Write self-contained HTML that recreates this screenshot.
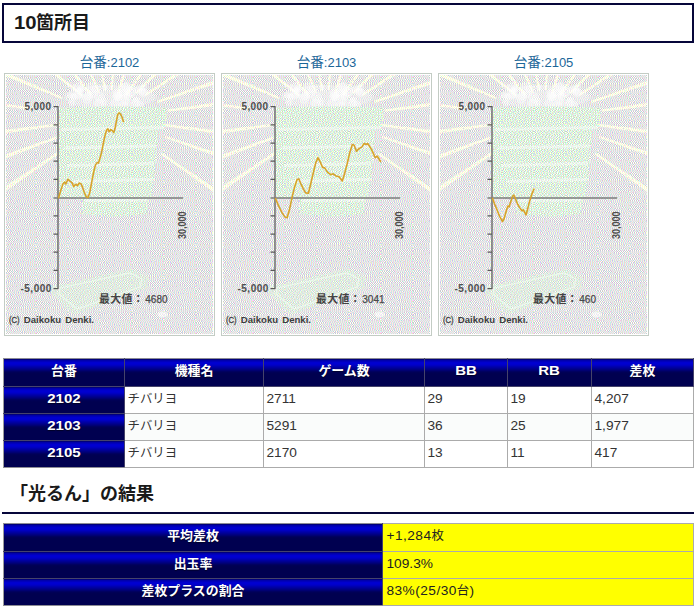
<!DOCTYPE html>
<html lang="ja">
<head>
<meta charset="utf-8">
<title>10箇所目</title>
<style>
html,body{margin:0;padding:0;background:#fff;}
body{width:700px;height:613px;position:relative;overflow:hidden;font-family:"Liberation Sans","Noto Sans CJK JP",sans-serif;font-size:13.5px;color:#333;}
.jt{font-size:12.4px;font-family:"Liberation Sans","Noto Sans CJK JP",sans-serif;}
h2{margin:0;font-weight:bold;font-size:18px;color:#1a1a1a;position:absolute;box-sizing:border-box;white-space:nowrap;}
h2 .jt{font-size:18px;}
#h1{left:2px;top:3px;width:692px;height:40px;border:2px solid #06063a;padding:0 0 0 9.5px;line-height:36px;}
#h1 .d{display:inline-block;transform:scaleX(1.13);transform-origin:0 50%;margin-right:2.4px;}
#h2{left:2px;top:476px;width:692px;height:38px;border-bottom:2px solid #06063a;padding:0 0 0 8px;line-height:36px;}
.charts{position:absolute;left:4px;top:52px;width:690px;height:290px;}
.cbox{position:absolute;top:0;width:211px;text-align:center;}
.cbox a{display:block;height:21px;line-height:21px;font-size:13px;color:#1b6699;text-decoration:none;}
.cbox a .jt{font-size:13.6px;}
svg.chart{display:block;}
table{position:absolute;border-collapse:collapse;table-layout:fixed;border-spacing:0;}
td,th{border:1px solid #ababab;padding:0 0 3px 2.5px;line-height:16px;font-size:13.7px;text-align:left;font-weight:normal;vertical-align:middle;overflow:hidden;white-space:nowrap;box-sizing:border-box;}
th{background:#000050 linear-gradient(to bottom,#0000a4 0,#0000b0 1.5px,#0000d6 3px,#0000c8 5.5px,#0000a8 7.5px,#00008a 9.5px,#000072 11px,#000058 12.5px,#000050 14px,#000050 100%);border-color:#45436a;color:#fff;font-weight:bold;text-align:center;padding:0 0 3px 0;text-shadow:0 1px 1px rgba(0,0,0,.55);}
tr>th:first-child{border-left-color:#9c9c9c;}
tr:first-child>th{border-top-color:#8c8c94;}
tr:last-child>th{border-bottom-color:#8c8c94;}
th .n{font-size:12.5px;display:inline-block;transform:scaleX(1.2);}
th .jt{font-size:12.9px;}
#t1{left:3px;top:358px;width:690px;}
#t1 tr{height:27px;}
#t2{left:3px;top:523px;width:690px;}
#t2 td{background:#ffff00;color:#222;padding-bottom:4px;padding-left:3.5px;}
#t2 th{padding-bottom:4px;}
#t2 tr.r2 td,#t2 tr.r2 th{padding-bottom:2px;}
.w{letter-spacing:.45px;}
tr.alt td{background:#fafcfb;}
</style>
</head>
<body>

<svg width="0" height="0" style="position:absolute" aria-hidden="true"><defs>
<pattern id="dg" width="32" height="32" patternUnits="userSpaceOnUse"><rect width="32" height="32" fill="#ccc"/><path fill="#ffcccc" d="M0 0h1v1h-1zM2 0h1v1h-1zM4 0h1v1h-1zM6 0h1v1h-1zM8 0h1v1h-1zM10 0h1v1h-1zM12 0h1v1h-1zM26 0h1v1h-1zM28 0h1v1h-1zM30 0h1v1h-1zM15 1h1v1h-1zM17 1h1v1h-1zM19 1h1v1h-1zM21 1h1v1h-1zM23 1h1v1h-1zM25 1h1v1h-1zM31 1h1v1h-1zM12 2h1v1h-1zM14 2h1v1h-1zM22 2h1v1h-1zM24 2h1v1h-1zM26 2h1v1h-1zM28 2h1v1h-1zM30 2h1v1h-1zM7 3h1v1h-1zM9 3h1v1h-1zM11 3h1v1h-1zM13 3h1v1h-1zM15 3h1v1h-1zM21 3h1v1h-1zM23 3h1v1h-1zM6 4h1v1h-1zM8 4h1v1h-1zM10 4h1v1h-1zM12 4h1v1h-1zM14 4h1v1h-1zM31 4h1v1h-1zM26 5h1v1h-1zM28 5h1v1h-1zM30 5h1v1h-1zM9 6h1v1h-1zM29 6h1v1h-1zM31 6h1v1h-1zM14 7h1v1h-1zM16 7h1v1h-1zM23 7h1v1h-1zM25 9h1v1h-1zM27 9h1v1h-1zM29 9h1v1h-1zM31 9h1v1h-1zM10 11h1v1h-1zM26 11h1v1h-1zM28 11h1v1h-1zM0 12h1v1h-1zM2 12h1v1h-1zM4 12h1v1h-1zM6 12h1v1h-1zM8 12h1v1h-1zM10 12h1v1h-1zM12 12h1v1h-1zM22 12h1v1h-1zM24 12h1v1h-1zM5 13h1v1h-1zM7 13h1v1h-1zM9 13h1v1h-1zM11 13h1v1h-1zM13 13h1v1h-1zM15 13h1v1h-1zM17 13h1v1h-1zM19 13h1v1h-1zM21 13h1v1h-1zM23 13h1v1h-1zM25 13h1v1h-1zM27 13h1v1h-1zM29 13h1v1h-1zM8 14h1v1h-1zM10 14h1v1h-1zM12 14h1v1h-1zM26 14h1v1h-1zM28 14h1v1h-1zM30 14h1v1h-1zM29 15h1v1h-1zM5 16h1v1h-1zM8 20h1v1h-1zM10 20h1v1h-1zM12 20h1v1h-1zM21 20h1v1h-1zM27 20h1v1h-1zM0 21h1v1h-1zM2 21h1v1h-1zM14 21h1v1h-1zM16 21h1v1h-1zM18 21h1v1h-1zM31 21h1v1h-1zM1 22h1v1h-1zM3 22h1v1h-1zM5 22h1v1h-1zM7 22h1v1h-1zM9 22h1v1h-1zM11 22h1v1h-1zM13 22h1v1h-1zM15 22h1v1h-1zM17 22h1v1h-1zM19 22h1v1h-1zM0 23h1v1h-1zM2 23h1v1h-1zM6 23h1v1h-1zM8 23h1v1h-1zM10 23h1v1h-1zM12 23h1v1h-1zM14 23h1v1h-1zM16 23h1v1h-1zM18 23h1v1h-1zM22 23h1v1h-1zM28 23h1v1h-1zM7 24h1v1h-1zM9 24h1v1h-1zM11 24h1v1h-1zM13 24h1v1h-1zM15 24h1v1h-1zM17 24h1v1h-1zM21 25h1v1h-1zM23 25h1v1h-1zM25 25h1v1h-1zM27 25h1v1h-1zM24 26h1v1h-1zM26 26h1v1h-1zM28 26h1v1h-1zM30 26h1v1h-1zM1 27h1v1h-1zM16 27h1v1h-1zM18 27h1v1h-1zM20 27h1v1h-1zM0 28h1v1h-1zM2 28h1v1h-1zM24 28h1v1h-1zM26 28h1v1h-1zM28 28h1v1h-1zM30 28h1v1h-1zM22 29h1v1h-1zM24 29h1v1h-1zM26 29h1v1h-1zM24 31h1v1h-1zM26 31h1v1h-1zM28 31h1v1h-1zM30 31h1v1h-1z"/><path fill="#ccffff" d="M1 0h1v1h-1zM3 0h1v1h-1zM5 0h1v1h-1zM7 0h1v1h-1zM9 0h1v1h-1zM11 0h1v1h-1zM27 0h1v1h-1zM29 0h1v1h-1zM31 0h1v1h-1zM14 1h1v1h-1zM16 1h1v1h-1zM18 1h1v1h-1zM20 1h1v1h-1zM22 1h1v1h-1zM24 1h1v1h-1zM26 1h1v1h-1zM30 1h1v1h-1zM11 2h1v1h-1zM13 2h1v1h-1zM15 2h1v1h-1zM21 2h1v1h-1zM23 2h1v1h-1zM25 2h1v1h-1zM27 2h1v1h-1zM29 2h1v1h-1zM31 2h1v1h-1zM6 3h1v1h-1zM8 3h1v1h-1zM10 3h1v1h-1zM12 3h1v1h-1zM14 3h1v1h-1zM22 3h1v1h-1zM7 4h1v1h-1zM9 4h1v1h-1zM11 4h1v1h-1zM13 4h1v1h-1zM15 4h1v1h-1zM25 5h1v1h-1zM27 5h1v1h-1zM29 5h1v1h-1zM31 5h1v1h-1zM8 6h1v1h-1zM10 6h1v1h-1zM28 6h1v1h-1zM30 6h1v1h-1zM13 7h1v1h-1zM15 7h1v1h-1zM22 7h1v1h-1zM24 9h1v1h-1zM26 9h1v1h-1zM28 9h1v1h-1zM30 9h1v1h-1zM9 11h1v1h-1zM27 11h1v1h-1zM1 12h1v1h-1zM3 12h1v1h-1zM5 12h1v1h-1zM7 12h1v1h-1zM9 12h1v1h-1zM11 12h1v1h-1zM23 12h1v1h-1zM25 12h1v1h-1zM31 12h1v1h-1zM4 13h1v1h-1zM6 13h1v1h-1zM8 13h1v1h-1zM10 13h1v1h-1zM12 13h1v1h-1zM14 13h1v1h-1zM16 13h1v1h-1zM18 13h1v1h-1zM20 13h1v1h-1zM22 13h1v1h-1zM24 13h1v1h-1zM26 13h1v1h-1zM28 13h1v1h-1zM30 13h1v1h-1zM9 14h1v1h-1zM11 14h1v1h-1zM27 14h1v1h-1zM29 14h1v1h-1zM28 15h1v1h-1zM30 15h1v1h-1zM6 16h1v1h-1zM22 16h1v1h-1zM9 20h1v1h-1zM11 20h1v1h-1zM22 20h1v1h-1zM26 20h1v1h-1zM28 20h1v1h-1zM1 21h1v1h-1zM3 21h1v1h-1zM13 21h1v1h-1zM15 21h1v1h-1zM17 21h1v1h-1zM19 21h1v1h-1zM0 22h1v1h-1zM2 22h1v1h-1zM4 22h1v1h-1zM6 22h1v1h-1zM8 22h1v1h-1zM10 22h1v1h-1zM12 22h1v1h-1zM14 22h1v1h-1zM16 22h1v1h-1zM18 22h1v1h-1zM29 22h1v1h-1zM1 23h1v1h-1zM7 23h1v1h-1zM9 23h1v1h-1zM11 23h1v1h-1zM13 23h1v1h-1zM15 23h1v1h-1zM17 23h1v1h-1zM19 23h1v1h-1zM21 23h1v1h-1zM6 24h1v1h-1zM8 24h1v1h-1zM10 24h1v1h-1zM12 24h1v1h-1zM14 24h1v1h-1zM16 24h1v1h-1zM22 25h1v1h-1zM24 25h1v1h-1zM26 25h1v1h-1zM28 25h1v1h-1zM23 26h1v1h-1zM25 26h1v1h-1zM27 26h1v1h-1zM29 26h1v1h-1zM31 26h1v1h-1zM0 27h1v1h-1zM2 27h1v1h-1zM15 27h1v1h-1zM17 27h1v1h-1zM19 27h1v1h-1zM1 28h1v1h-1zM20 28h1v1h-1zM25 28h1v1h-1zM27 28h1v1h-1zM29 28h1v1h-1zM23 29h1v1h-1zM25 29h1v1h-1zM8 30h1v1h-1zM25 31h1v1h-1zM27 31h1v1h-1zM29 31h1v1h-1z"/><path fill="#ccccff" d="M13 0h1v1h-1zM15 0h1v1h-1zM17 0h1v1h-1zM19 0h1v1h-1zM21 0h1v1h-1zM23 0h1v1h-1zM25 0h1v1h-1zM0 1h1v1h-1zM2 1h1v1h-1zM18 3h1v1h-1zM20 3h1v1h-1zM1 5h1v1h-1zM3 5h1v1h-1zM5 5h1v1h-1zM24 7h1v1h-1zM26 7h1v1h-1zM28 7h1v1h-1zM30 7h1v1h-1zM0 8h1v1h-1zM2 8h1v1h-1zM16 8h1v1h-1zM1 9h1v1h-1zM19 9h1v1h-1zM0 10h1v1h-1zM21 10h1v1h-1zM23 10h1v1h-1zM25 10h1v1h-1zM27 10h1v1h-1zM31 10h1v1h-1zM6 11h1v1h-1zM11 11h1v1h-1zM13 11h1v1h-1zM15 11h1v1h-1zM17 11h1v1h-1zM19 11h1v1h-1zM25 11h1v1h-1zM19 12h1v1h-1zM21 12h1v1h-1zM1 14h1v1h-1zM5 14h1v1h-1zM7 14h1v1h-1zM13 14h1v1h-1zM15 14h1v1h-1zM17 14h1v1h-1zM19 14h1v1h-1zM21 14h1v1h-1zM23 14h1v1h-1zM25 14h1v1h-1zM0 15h1v1h-1zM4 15h1v1h-1zM6 15h1v1h-1zM8 15h1v1h-1zM10 15h1v1h-1zM14 15h1v1h-1zM16 15h1v1h-1zM18 15h1v1h-1zM2 16h1v1h-1zM4 16h1v1h-1zM24 16h1v1h-1zM26 16h1v1h-1zM28 16h1v1h-1zM30 16h1v1h-1zM0 18h1v1h-1zM2 18h1v1h-1zM4 18h1v1h-1zM6 18h1v1h-1zM8 18h1v1h-1zM10 18h1v1h-1zM30 19h1v1h-1zM0 20h1v1h-1zM16 20h1v1h-1zM18 20h1v1h-1zM20 20h1v1h-1zM30 21h1v1h-1zM3 23h1v1h-1zM5 23h1v1h-1zM23 23h1v1h-1zM25 23h1v1h-1zM27 23h1v1h-1zM18 24h1v1h-1zM13 25h1v1h-1zM15 25h1v1h-1zM17 25h1v1h-1zM19 25h1v1h-1zM6 26h1v1h-1zM8 26h1v1h-1zM10 26h1v1h-1zM12 26h1v1h-1zM14 26h1v1h-1zM16 26h1v1h-1zM18 26h1v1h-1zM20 26h1v1h-1zM5 27h1v1h-1zM7 27h1v1h-1zM9 27h1v1h-1zM24 27h1v1h-1zM26 27h1v1h-1zM6 28h1v1h-1zM8 28h1v1h-1zM10 28h1v1h-1zM12 28h1v1h-1zM14 28h1v1h-1zM16 28h1v1h-1zM23 28h1v1h-1zM31 28h1v1h-1zM4 29h1v1h-1zM6 29h1v1h-1zM10 30h1v1h-1zM12 30h1v1h-1zM13 31h1v1h-1zM15 31h1v1h-1zM17 31h1v1h-1zM19 31h1v1h-1zM21 31h1v1h-1zM23 31h1v1h-1z"/><path fill="#ffffcc" d="M14 0h1v1h-1zM16 0h1v1h-1zM18 0h1v1h-1zM20 0h1v1h-1zM22 0h1v1h-1zM24 0h1v1h-1zM1 1h1v1h-1zM19 3h1v1h-1zM2 5h1v1h-1zM4 5h1v1h-1zM25 7h1v1h-1zM27 7h1v1h-1zM29 7h1v1h-1zM1 8h1v1h-1zM0 9h1v1h-1zM2 9h1v1h-1zM20 9h1v1h-1zM22 10h1v1h-1zM24 10h1v1h-1zM26 10h1v1h-1zM5 11h1v1h-1zM7 11h1v1h-1zM12 11h1v1h-1zM14 11h1v1h-1zM16 11h1v1h-1zM18 11h1v1h-1zM20 11h1v1h-1zM24 11h1v1h-1zM31 11h1v1h-1zM18 12h1v1h-1zM20 12h1v1h-1zM0 14h1v1h-1zM4 14h1v1h-1zM6 14h1v1h-1zM14 14h1v1h-1zM16 14h1v1h-1zM18 14h1v1h-1zM20 14h1v1h-1zM22 14h1v1h-1zM24 14h1v1h-1zM1 15h1v1h-1zM5 15h1v1h-1zM7 15h1v1h-1zM9 15h1v1h-1zM15 15h1v1h-1zM17 15h1v1h-1zM3 16h1v1h-1zM23 16h1v1h-1zM25 16h1v1h-1zM27 16h1v1h-1zM29 16h1v1h-1zM31 16h1v1h-1zM1 18h1v1h-1zM3 18h1v1h-1zM5 18h1v1h-1zM7 18h1v1h-1zM9 18h1v1h-1zM29 19h1v1h-1zM31 19h1v1h-1zM17 20h1v1h-1zM19 20h1v1h-1zM29 21h1v1h-1zM4 23h1v1h-1zM24 23h1v1h-1zM26 23h1v1h-1zM19 24h1v1h-1zM14 25h1v1h-1zM16 25h1v1h-1zM18 25h1v1h-1zM5 26h1v1h-1zM7 26h1v1h-1zM9 26h1v1h-1zM11 26h1v1h-1zM13 26h1v1h-1zM15 26h1v1h-1zM17 26h1v1h-1zM19 26h1v1h-1zM6 27h1v1h-1zM8 27h1v1h-1zM23 27h1v1h-1zM25 27h1v1h-1zM5 28h1v1h-1zM7 28h1v1h-1zM9 28h1v1h-1zM11 28h1v1h-1zM13 28h1v1h-1zM15 28h1v1h-1zM5 29h1v1h-1zM9 30h1v1h-1zM11 30h1v1h-1zM13 30h1v1h-1zM14 31h1v1h-1zM16 31h1v1h-1zM18 31h1v1h-1zM20 31h1v1h-1zM22 31h1v1h-1z"/><path fill="#ccffcc" d="M3 1h1v1h-1zM5 1h1v1h-1zM0 2h1v1h-1zM2 2h1v1h-1zM4 2h1v1h-1zM6 2h1v1h-1zM8 2h1v1h-1zM24 3h1v1h-1zM26 3h1v1h-1zM28 3h1v1h-1zM30 3h1v1h-1zM28 4h1v1h-1zM30 4h1v1h-1zM0 5h1v1h-1zM14 5h1v1h-1zM16 5h1v1h-1zM18 5h1v1h-1zM20 5h1v1h-1zM22 5h1v1h-1zM15 6h1v1h-1zM17 6h1v1h-1zM19 6h1v1h-1zM21 6h1v1h-1zM23 6h1v1h-1zM31 7h1v1h-1zM3 8h1v1h-1zM11 8h1v1h-1zM13 8h1v1h-1zM15 8h1v1h-1zM20 8h1v1h-1zM22 8h1v1h-1zM24 8h1v1h-1zM26 8h1v1h-1zM28 8h1v1h-1zM4 9h1v1h-1zM6 9h1v1h-1zM8 9h1v1h-1zM10 9h1v1h-1zM12 9h1v1h-1zM14 9h1v1h-1zM16 9h1v1h-1zM18 9h1v1h-1zM1 10h1v1h-1zM3 10h1v1h-1zM5 10h1v1h-1zM28 10h1v1h-1zM30 10h1v1h-1zM0 11h1v1h-1zM2 11h1v1h-1zM29 11h1v1h-1zM13 12h1v1h-1zM15 12h1v1h-1zM2 14h1v1h-1zM31 14h1v1h-1zM3 15h1v1h-1zM11 15h1v1h-1zM13 15h1v1h-1zM19 15h1v1h-1zM21 15h1v1h-1zM12 17h1v1h-1zM24 17h1v1h-1zM11 18h1v1h-1zM13 18h1v1h-1zM15 18h1v1h-1zM17 18h1v1h-1zM0 19h1v1h-1zM2 19h1v1h-1zM4 19h1v1h-1zM6 19h1v1h-1zM8 19h1v1h-1zM10 19h1v1h-1zM12 19h1v1h-1zM14 19h1v1h-1zM1 20h1v1h-1zM3 20h1v1h-1zM5 20h1v1h-1zM7 20h1v1h-1zM13 20h1v1h-1zM15 20h1v1h-1zM30 20h1v1h-1zM10 21h1v1h-1zM27 22h1v1h-1zM29 23h1v1h-1zM31 23h1v1h-1zM21 24h1v1h-1zM23 24h1v1h-1zM25 24h1v1h-1zM27 24h1v1h-1zM29 24h1v1h-1zM31 24h1v1h-1zM10 25h1v1h-1zM12 25h1v1h-1zM20 25h1v1h-1zM10 27h1v1h-1zM12 27h1v1h-1zM21 27h1v1h-1zM27 27h1v1h-1zM29 27h1v1h-1zM31 27h1v1h-1zM17 28h1v1h-1zM22 28h1v1h-1zM7 29h1v1h-1zM13 29h1v1h-1zM15 29h1v1h-1zM17 29h1v1h-1zM19 29h1v1h-1zM21 29h1v1h-1zM27 29h1v1h-1zM29 29h1v1h-1zM31 29h1v1h-1zM1 30h1v1h-1zM3 30h1v1h-1zM5 30h1v1h-1zM16 30h1v1h-1zM18 30h1v1h-1zM20 30h1v1h-1zM22 30h1v1h-1zM24 30h1v1h-1zM26 30h1v1h-1zM28 30h1v1h-1zM30 30h1v1h-1zM10 31h1v1h-1zM12 31h1v1h-1zM31 31h1v1h-1z"/><path fill="#ffccff" d="M4 1h1v1h-1zM6 1h1v1h-1zM1 2h1v1h-1zM3 2h1v1h-1zM5 2h1v1h-1zM7 2h1v1h-1zM9 2h1v1h-1zM0 3h1v1h-1zM25 3h1v1h-1zM27 3h1v1h-1zM29 3h1v1h-1zM31 3h1v1h-1zM27 4h1v1h-1zM29 4h1v1h-1zM13 5h1v1h-1zM15 5h1v1h-1zM17 5h1v1h-1zM19 5h1v1h-1zM21 5h1v1h-1zM23 5h1v1h-1zM14 6h1v1h-1zM16 6h1v1h-1zM18 6h1v1h-1zM20 6h1v1h-1zM22 6h1v1h-1zM4 8h1v1h-1zM10 8h1v1h-1zM12 8h1v1h-1zM14 8h1v1h-1zM19 8h1v1h-1zM21 8h1v1h-1zM23 8h1v1h-1zM25 8h1v1h-1zM27 8h1v1h-1zM29 8h1v1h-1zM3 9h1v1h-1zM5 9h1v1h-1zM7 9h1v1h-1zM9 9h1v1h-1zM11 9h1v1h-1zM13 9h1v1h-1zM15 9h1v1h-1zM17 9h1v1h-1zM2 10h1v1h-1zM4 10h1v1h-1zM6 10h1v1h-1zM29 10h1v1h-1zM1 11h1v1h-1zM3 11h1v1h-1zM30 11h1v1h-1zM14 12h1v1h-1zM16 12h1v1h-1zM31 13h1v1h-1zM3 14h1v1h-1zM2 15h1v1h-1zM12 15h1v1h-1zM20 15h1v1h-1zM22 15h1v1h-1zM11 17h1v1h-1zM13 17h1v1h-1zM23 17h1v1h-1zM25 17h1v1h-1zM31 17h1v1h-1zM12 18h1v1h-1zM14 18h1v1h-1zM16 18h1v1h-1zM18 18h1v1h-1zM1 19h1v1h-1zM3 19h1v1h-1zM5 19h1v1h-1zM7 19h1v1h-1zM9 19h1v1h-1zM11 19h1v1h-1zM13 19h1v1h-1zM15 19h1v1h-1zM2 20h1v1h-1zM4 20h1v1h-1zM6 20h1v1h-1zM14 20h1v1h-1zM29 20h1v1h-1zM31 20h1v1h-1zM9 21h1v1h-1zM11 21h1v1h-1zM26 22h1v1h-1zM28 22h1v1h-1zM30 23h1v1h-1zM20 24h1v1h-1zM22 24h1v1h-1zM24 24h1v1h-1zM26 24h1v1h-1zM28 24h1v1h-1zM30 24h1v1h-1zM9 25h1v1h-1zM11 25h1v1h-1zM11 27h1v1h-1zM13 27h1v1h-1zM22 27h1v1h-1zM28 27h1v1h-1zM30 27h1v1h-1zM18 28h1v1h-1zM21 28h1v1h-1zM8 29h1v1h-1zM12 29h1v1h-1zM14 29h1v1h-1zM16 29h1v1h-1zM18 29h1v1h-1zM20 29h1v1h-1zM28 29h1v1h-1zM30 29h1v1h-1zM0 30h1v1h-1zM2 30h1v1h-1zM4 30h1v1h-1zM6 30h1v1h-1zM15 30h1v1h-1zM17 30h1v1h-1zM19 30h1v1h-1zM21 30h1v1h-1zM23 30h1v1h-1zM25 30h1v1h-1zM27 30h1v1h-1zM29 30h1v1h-1zM31 30h1v1h-1zM9 31h1v1h-1zM11 31h1v1h-1z"/><path fill="#ffffff" d="M8 1h1v1h-1zM10 1h1v1h-1zM12 1h1v1h-1zM28 1h1v1h-1zM17 2h1v1h-1zM19 2h1v1h-1zM2 3h1v1h-1zM4 3h1v1h-1zM16 3h1v1h-1zM1 4h1v1h-1zM3 4h1v1h-1zM5 4h1v1h-1zM17 4h1v1h-1zM19 4h1v1h-1zM21 4h1v1h-1zM23 4h1v1h-1zM25 4h1v1h-1zM7 5h1v1h-1zM9 5h1v1h-1zM11 5h1v1h-1zM0 6h1v1h-1zM2 6h1v1h-1zM4 6h1v1h-1zM6 6h1v1h-1zM12 6h1v1h-1zM24 6h1v1h-1zM26 6h1v1h-1zM1 7h1v1h-1zM3 7h1v1h-1zM5 7h1v1h-1zM7 7h1v1h-1zM9 7h1v1h-1zM11 7h1v1h-1zM18 7h1v1h-1zM20 7h1v1h-1zM6 8h1v1h-1zM8 8h1v1h-1zM17 8h1v1h-1zM31 8h1v1h-1zM22 9h1v1h-1zM8 10h1v1h-1zM10 10h1v1h-1zM12 10h1v1h-1zM14 10h1v1h-1zM16 10h1v1h-1zM18 10h1v1h-1zM20 10h1v1h-1zM22 11h1v1h-1zM27 12h1v1h-1zM29 12h1v1h-1zM0 13h1v1h-1zM2 13h1v1h-1zM24 15h1v1h-1zM26 15h1v1h-1zM0 16h1v1h-1zM8 16h1v1h-1zM10 16h1v1h-1zM12 16h1v1h-1zM14 16h1v1h-1zM16 16h1v1h-1zM18 16h1v1h-1zM20 16h1v1h-1zM1 17h1v1h-1zM3 17h1v1h-1zM5 17h1v1h-1zM7 17h1v1h-1zM9 17h1v1h-1zM15 17h1v1h-1zM17 17h1v1h-1zM19 17h1v1h-1zM21 17h1v1h-1zM27 17h1v1h-1zM29 17h1v1h-1zM20 18h1v1h-1zM22 18h1v1h-1zM24 18h1v1h-1zM26 18h1v1h-1zM28 18h1v1h-1zM30 18h1v1h-1zM17 19h1v1h-1zM19 19h1v1h-1zM21 19h1v1h-1zM23 19h1v1h-1zM25 19h1v1h-1zM27 19h1v1h-1zM24 20h1v1h-1zM5 21h1v1h-1zM7 21h1v1h-1zM21 21h1v1h-1zM23 21h1v1h-1zM25 21h1v1h-1zM27 21h1v1h-1zM20 22h1v1h-1zM22 22h1v1h-1zM24 22h1v1h-1zM31 22h1v1h-1zM0 24h1v1h-1zM2 24h1v1h-1zM4 24h1v1h-1zM1 25h1v1h-1zM3 25h1v1h-1zM5 25h1v1h-1zM7 25h1v1h-1zM30 25h1v1h-1zM1 26h1v1h-1zM3 26h1v1h-1zM21 26h1v1h-1zM4 27h1v1h-1zM3 28h1v1h-1zM0 29h1v1h-1zM2 29h1v1h-1zM10 29h1v1h-1zM1 31h1v1h-1zM3 31h1v1h-1zM5 31h1v1h-1zM7 31h1v1h-1z"/></pattern>
<pattern id="dgn" width="32" height="32" patternUnits="userSpaceOnUse"><rect width="32" height="32" fill="#ccc"/><path fill="#ffffcc" d="M0 0h1v1h-1zM4 0h1v1h-1zM10 0h1v1h-1zM13 0h1v1h-1zM18 0h1v1h-1zM20 0h1v1h-1zM30 0h1v1h-1zM2 1h1v1h-1zM5 1h1v1h-1zM9 1h1v1h-1zM12 1h1v1h-1zM14 1h1v1h-1zM24 1h1v1h-1zM30 1h1v1h-1zM0 2h1v1h-1zM10 2h1v1h-1zM21 2h1v1h-1zM24 2h1v1h-1zM31 2h1v1h-1zM4 3h1v1h-1zM6 3h1v1h-1zM8 3h1v1h-1zM12 3h1v1h-1zM20 3h1v1h-1zM30 3h1v1h-1zM8 4h1v1h-1zM11 4h1v1h-1zM14 4h1v1h-1zM21 4h1v1h-1zM31 4h1v1h-1zM4 5h1v1h-1zM12 5h1v1h-1zM1 6h1v1h-1zM6 6h1v1h-1zM18 6h1v1h-1zM21 6h1v1h-1zM12 7h2v1h-2zM17 7h1v1h-1zM10 8h1v1h-1zM14 8h1v1h-1zM23 8h1v1h-1zM31 8h1v1h-1zM1 9h1v1h-1zM3 9h1v1h-1zM9 9h1v1h-1zM13 9h1v1h-1zM16 9h1v1h-1zM18 9h1v1h-1zM25 9h1v1h-1zM30 9h1v1h-1zM2 10h1v1h-1zM19 10h1v1h-1zM21 10h1v1h-1zM24 10h1v1h-1zM31 10h1v1h-1zM1 11h1v1h-1zM6 11h1v1h-1zM8 11h1v1h-1zM10 11h1v1h-1zM15 11h1v1h-1zM18 11h1v1h-1zM2 12h1v1h-1zM9 12h1v1h-1zM11 12h1v1h-1zM14 12h1v1h-1zM22 12h1v1h-1zM0 13h1v1h-1zM3 13h1v1h-1zM12 13h1v1h-1zM18 13h1v1h-1zM23 13h1v1h-1zM25 13h1v1h-1zM1 14h1v1h-1zM9 14h1v1h-1zM11 14h1v1h-1zM15 14h1v1h-1zM22 14h1v1h-1zM27 14h1v1h-1zM1 15h1v1h-1zM3 15h1v1h-1zM9 15h1v1h-1zM14 15h1v1h-1zM16 15h1v1h-1zM19 15h1v1h-1zM21 15h1v1h-1zM24 15h1v1h-1zM27 15h1v1h-1zM31 15h1v1h-1zM1 16h1v1h-1zM4 16h1v1h-1zM13 16h1v1h-1zM18 16h1v1h-1zM2 17h1v1h-1zM4 17h1v1h-1zM7 17h1v1h-1zM21 17h1v1h-1zM23 17h1v1h-1zM10 18h1v1h-1zM16 18h1v1h-1zM26 18h1v1h-1zM30 18h1v1h-1zM0 19h1v1h-1zM8 19h1v1h-1zM10 19h1v1h-1zM17 19h1v1h-1zM20 19h1v1h-1zM23 19h1v1h-1zM31 19h1v1h-1zM5 20h1v1h-1zM9 20h1v1h-1zM12 20h1v1h-1zM16 20h1v1h-1zM6 21h1v1h-1zM8 21h1v1h-1zM14 21h1v1h-1zM17 21h1v1h-1zM19 21h1v1h-1zM22 21h1v1h-1zM25 21h1v1h-1zM3 22h1v1h-1zM5 22h1v1h-1zM8 22h1v1h-1zM10 22h1v1h-1zM13 22h1v1h-1zM20 22h1v1h-1zM26 22h1v1h-1zM9 23h1v1h-1zM6 24h1v1h-1zM18 24h1v1h-1zM20 24h1v1h-1zM27 24h1v1h-1zM31 24h1v1h-1zM2 25h1v1h-1zM5 25h1v1h-1zM7 25h1v1h-1zM16 25h1v1h-1zM2 26h1v1h-1zM4 26h1v1h-1zM11 26h1v1h-1zM23 26h1v1h-1zM0 27h1v1h-1zM10 27h1v1h-1zM15 27h1v1h-1zM18 27h1v1h-1zM24 27h1v1h-1zM3 28h1v1h-1zM6 28h1v1h-1zM10 28h1v1h-1zM16 28h1v1h-1zM19 28h1v1h-1zM21 28h1v1h-1zM23 28h1v1h-1zM26 28h1v1h-1zM4 29h1v1h-1zM11 29h1v1h-1zM14 29h1v1h-1zM18 29h1v1h-1zM21 29h1v1h-1zM26 29h1v1h-1zM6 30h1v1h-1zM8 30h1v1h-1zM10 30h1v1h-1zM17 30h1v1h-1zM19 30h1v1h-1zM2 31h1v1h-1zM5 31h1v1h-1zM9 31h1v1h-1zM12 31h1v1h-1zM19 31h1v1h-1zM21 31h1v1h-1z"/><path fill="#ffffff" d="M2 0h1v1h-1zM23 0h1v1h-1zM26 0h1v1h-1zM22 1h1v1h-1zM3 2h1v1h-1zM14 2h1v1h-1zM16 2h1v1h-1zM18 2h1v1h-1zM27 2h1v1h-1zM2 3h1v1h-1zM23 3h1v1h-1zM0 4h1v1h-1zM23 4h1v1h-1zM25 4h1v1h-1zM2 5h1v1h-1zM9 5h1v1h-1zM14 5h1v1h-1zM17 5h1v1h-1zM19 5h1v1h-1zM22 5h1v1h-1zM3 6h1v1h-1zM15 6h1v1h-1zM28 6h1v1h-1zM30 6h1v1h-1zM5 7h1v1h-1zM8 7h1v1h-1zM20 8h1v1h-1zM24 8h1v1h-1zM28 8h1v1h-1zM4 10h1v1h-1zM10 10h1v1h-1zM17 10h1v1h-1zM13 11h1v1h-1zM28 11h1v1h-1zM30 11h1v1h-1zM4 12h1v1h-1zM6 12h1v1h-1zM27 12h1v1h-1zM8 13h1v1h-1zM4 14h1v1h-1zM7 14h1v1h-1zM17 14h1v1h-1zM20 14h1v1h-1zM30 14h1v1h-1zM29 15h1v1h-1zM6 16h1v1h-1zM16 16h1v1h-1zM25 16h1v1h-1zM28 16h1v1h-1zM19 17h1v1h-1zM25 17h1v1h-1zM27 17h1v1h-1zM30 17h1v1h-1zM12 18h1v1h-1zM28 18h1v1h-1zM25 19h1v1h-1zM3 20h1v1h-1zM19 20h1v1h-1zM23 20h1v1h-1zM26 20h1v1h-1zM11 21h1v1h-1zM30 21h1v1h-1zM23 22h1v1h-1zM31 22h1v1h-1zM4 23h1v1h-1zM11 23h1v1h-1zM22 23h1v1h-1zM26 23h1v1h-1zM28 23h1v1h-1zM10 24h1v1h-1zM0 25h1v1h-1zM13 25h1v1h-1zM26 25h1v1h-1zM8 26h1v1h-1zM21 26h1v1h-1zM27 26h1v1h-1zM29 26h1v1h-1zM2 27h1v1h-1zM7 27h1v1h-1zM28 27h1v1h-1zM31 27h1v1h-1zM1 28h1v1h-1zM8 28h1v1h-1zM29 28h1v1h-1zM0 29h1v1h-1zM7 29h1v1h-1zM24 29h1v1h-1zM13 30h1v1h-1zM22 30h1v1h-1zM27 30h1v1h-1zM0 31h1v1h-1zM16 31h1v1h-1zM24 31h1v1h-1z"/><path fill="#ccccff" d="M5 0h1v1h-1zM14 0h1v1h-1zM19 0h1v1h-1zM10 1h1v1h-1zM13 1h1v1h-1zM31 1h1v1h-1zM12 2h1v1h-1zM25 2h1v1h-1zM7 3h1v1h-1zM21 3h1v1h-1zM9 4h1v1h-1zM12 4h1v1h-1zM12 6h1v1h-1zM20 6h1v1h-1zM11 7h1v1h-1zM9 8h1v1h-1zM2 9h1v1h-1zM14 9h1v1h-1zM24 9h1v1h-1zM18 10h1v1h-1zM25 10h1v1h-1zM30 10h1v1h-1zM2 11h1v1h-1zM7 11h1v1h-1zM11 11h1v1h-1zM2 13h1v1h-1zM11 13h1v1h-1zM22 13h1v1h-1zM0 14h1v1h-1zM10 14h1v1h-1zM13 14h1v1h-1zM23 14h1v1h-1zM2 15h1v1h-1zM15 15h1v1h-1zM20 15h1v1h-1zM22 15h1v1h-1zM26 15h1v1h-1zM0 16h1v1h-1zM3 16h1v1h-1zM14 16h1v1h-1zM31 16h1v1h-1zM1 17h1v1h-1zM17 17h1v1h-1zM31 18h1v1h-1zM16 19h1v1h-1zM22 19h1v1h-1zM8 20h1v1h-1zM5 21h1v1h-1zM7 21h1v1h-1zM13 21h1v1h-1zM16 21h1v1h-1zM20 21h1v1h-1zM4 22h1v1h-1zM9 22h1v1h-1zM12 22h1v1h-1zM25 22h1v1h-1zM19 23h1v1h-1zM6 25h1v1h-1zM15 25h1v1h-1zM3 26h1v1h-1zM11 27h1v1h-1zM17 27h1v1h-1zM23 27h1v1h-1zM26 27h1v1h-1zM15 28h1v1h-1zM18 28h1v1h-1zM22 28h1v1h-1zM5 29h1v1h-1zM10 29h1v1h-1zM9 30h1v1h-1zM6 31h1v1h-1zM20 31h1v1h-1zM26 31h1v1h-1z"/><path fill="#ccffcc" d="M6 0h1v1h-1zM12 0h1v1h-1zM15 0h1v1h-1zM24 0h1v1h-1zM27 0h1v1h-1zM3 1h1v1h-1zM6 1h1v1h-1zM15 1h1v1h-1zM18 1h1v1h-1zM21 1h1v1h-1zM27 1h1v1h-1zM8 2h1v1h-1zM11 2h1v1h-1zM13 2h1v1h-1zM17 2h1v1h-1zM26 2h1v1h-1zM28 2h1v1h-1zM1 3h1v1h-1zM5 3h1v1h-1zM13 3h1v1h-1zM15 3h2v1h-2zM18 3h2v1h-2zM22 3h1v1h-1zM24 3h2v1h-2zM1 4h1v1h-1zM7 4h1v1h-1zM10 4h1v1h-1zM13 4h1v1h-1zM17 4h1v1h-1zM26 4h2v1h-2zM3 5h1v1h-1zM5 5h1v1h-1zM10 5h1v1h-1zM16 5h1v1h-1zM20 5h1v1h-1zM23 5h2v1h-2zM29 5h2v1h-2zM7 6h1v1h-1zM9 6h1v1h-1zM11 6h1v1h-1zM13 6h2v1h-2zM19 6h1v1h-1zM22 6h1v1h-1zM24 6h1v1h-1zM27 6h1v1h-1zM31 6h1v1h-1zM0 7h1v1h-1zM3 7h2v1h-2zM9 7h2v1h-2zM18 7h1v1h-1zM20 7h2v1h-2zM23 7h1v1h-1zM26 7h1v1h-1zM28 7h2v1h-2zM31 7h1v1h-1zM2 8h1v1h-1zM4 8h1v1h-1zM6 8h1v1h-1zM8 8h1v1h-1zM11 8h1v1h-1zM19 8h1v1h-1zM25 8h1v1h-1zM27 8h1v1h-1zM5 9h1v1h-1zM15 9h1v1h-1zM20 9h1v1h-1zM23 9h1v1h-1zM26 9h1v1h-1zM29 9h1v1h-1zM1 10h1v1h-1zM5 10h1v1h-1zM8 10h1v1h-1zM11 10h1v1h-1zM14 10h1v1h-1zM16 10h1v1h-1zM23 10h1v1h-1zM26 10h1v1h-1zM29 10h1v1h-1zM4 11h1v1h-1zM12 11h1v1h-1zM19 11h1v1h-1zM25 11h1v1h-1zM27 11h1v1h-1zM31 11h1v1h-1zM1 12h1v1h-1zM5 12h1v1h-1zM7 12h1v1h-1zM18 12h1v1h-1zM20 12h1v1h-1zM24 12h1v1h-1zM26 12h1v1h-1zM28 12h2v1h-2zM31 12h1v1h-1zM1 13h1v1h-1zM4 13h1v1h-1zM6 13h1v1h-1zM10 13h1v1h-1zM13 13h1v1h-1zM15 13h1v1h-1zM21 13h1v1h-1zM30 13h1v1h-1zM6 14h1v1h-1zM12 14h1v1h-1zM14 14h1v1h-1zM16 14h1v1h-1zM19 14h1v1h-1zM21 14h1v1h-1zM24 14h1v1h-1zM26 14h1v1h-1zM0 15h1v1h-1zM4 15h1v1h-1zM8 15h1v1h-1zM11 15h1v1h-1zM13 15h1v1h-1zM23 15h1v1h-1zM25 15h1v1h-1zM30 15h1v1h-1zM2 16h1v1h-1zM7 16h1v1h-1zM11 16h1v1h-1zM15 16h1v1h-1zM17 16h1v1h-1zM21 16h1v1h-1zM26 16h2v1h-2zM30 16h1v1h-1zM0 17h1v1h-1zM10 17h1v1h-1zM13 17h1v1h-1zM16 17h1v1h-1zM18 17h1v1h-1zM24 17h1v1h-1zM29 17h1v1h-1zM31 17h1v1h-1zM1 18h2v1h-2zM6 18h1v1h-1zM13 18h1v1h-1zM17 18h1v1h-1zM19 18h1v1h-1zM27 18h1v1h-1zM1 19h1v1h-1zM3 19h2v1h-2zM12 19h1v1h-1zM14 19h2v1h-2zM21 19h1v1h-1zM24 19h1v1h-1zM30 19h1v1h-1zM0 20h1v1h-1zM2 20h1v1h-1zM6 20h2v1h-2zM18 20h1v1h-1zM20 20h1v1h-1zM22 20h1v1h-1zM25 20h1v1h-1zM27 20h2v1h-2zM30 20h1v1h-1zM1 21h1v1h-1zM4 21h1v1h-1zM12 21h1v1h-1zM15 21h1v1h-1zM21 21h1v1h-1zM29 21h1v1h-1zM2 22h1v1h-1zM7 22h1v1h-1zM11 22h1v1h-1zM14 22h1v1h-1zM16 22h1v1h-1zM19 22h1v1h-1zM24 22h1v1h-1zM27 22h1v1h-1zM30 22h1v1h-1zM0 23h2v1h-2zM3 23h1v1h-1zM6 23h1v1h-1zM12 23h1v1h-1zM15 23h1v1h-1zM18 23h1v1h-1zM20 23h1v1h-1zM23 23h1v1h-1zM25 23h1v1h-1zM29 23h1v1h-1zM2 24h1v1h-1zM4 24h1v1h-1zM9 24h1v1h-1zM12 24h1v1h-1zM15 24h1v1h-1zM24 24h1v1h-1zM28 24h1v1h-1zM30 24h1v1h-1zM8 25h1v1h-1zM10 25h1v1h-1zM14 25h1v1h-1zM18 25h1v1h-1zM22 25h1v1h-1zM25 25h1v1h-1zM29 25h1v1h-1zM6 26h1v1h-1zM9 26h1v1h-1zM13 26h1v1h-1zM16 26h1v1h-1zM20 26h1v1h-1zM26 26h1v1h-1zM30 26h1v1h-1zM3 27h1v1h-1zM6 27h1v1h-1zM12 27h1v1h-1zM16 27h1v1h-1zM19 27h1v1h-1zM21 27h2v1h-2zM25 27h1v1h-1zM27 27h1v1h-1zM30 27h1v1h-1zM0 28h1v1h-1zM9 28h1v1h-1zM14 28h1v1h-1zM17 28h1v1h-1zM24 28h1v1h-1zM28 28h1v1h-1zM31 28h1v1h-1zM2 29h1v1h-1zM6 29h1v1h-1zM9 29h1v1h-1zM12 29h1v1h-1zM15 29h1v1h-1zM22 29h1v1h-1zM30 29h1v1h-1zM0 30h1v1h-1zM3 30h1v1h-1zM5 30h1v1h-1zM23 30h2v1h-2zM26 30h1v1h-1zM28 30h1v1h-1zM31 30h1v1h-1zM4 31h1v1h-1zM7 31h1v1h-1zM15 31h1v1h-1zM25 31h1v1h-1zM27 31h1v1h-1zM30 31h1v1h-1z"/><path fill="#ccffff" d="M7 0h1v1h-1zM9 0h1v1h-1zM17 0h1v1h-1zM21 0h1v1h-1zM28 0h1v1h-1zM31 0h1v1h-1zM1 1h1v1h-1zM4 1h1v1h-1zM8 1h1v1h-1zM11 1h1v1h-1zM16 1h1v1h-1zM19 1h1v1h-1zM25 1h1v1h-1zM29 1h1v1h-1zM1 2h1v1h-1zM5 2h1v1h-1zM7 2h1v1h-1zM20 2h1v1h-1zM23 2h1v1h-1zM30 2h1v1h-1zM9 3h1v1h-1zM11 3h1v1h-1zM27 3h1v1h-1zM29 3h1v1h-1zM3 4h2v1h-2zM6 4h1v1h-1zM15 4h1v1h-1zM18 4h1v1h-1zM20 4h1v1h-1zM28 4h1v1h-1zM30 4h1v1h-1zM0 5h1v1h-1zM7 5h1v1h-1zM11 5h1v1h-1zM25 5h1v1h-1zM27 5h1v1h-1zM0 6h1v1h-1zM5 6h1v1h-1zM17 6h1v1h-1zM26 6h1v1h-1zM2 7h1v1h-1zM7 7h1v1h-1zM14 7h1v1h-1zM16 7h1v1h-1zM25 7h1v1h-1zM1 8h1v1h-1zM12 8h1v1h-1zM15 8h1v1h-1zM17 8h1v1h-1zM22 8h1v1h-1zM30 8h1v1h-1zM0 9h1v1h-1zM4 9h1v1h-1zM7 9h2v1h-2zM10 9h1v1h-1zM12 9h1v1h-1zM19 9h1v1h-1zM21 9h1v1h-1zM28 9h1v1h-1zM31 9h1v1h-1zM6 10h1v1h-1zM13 10h1v1h-1zM22 10h1v1h-1zM27 10h1v1h-1zM0 11h1v1h-1zM3 11h1v1h-1zM9 11h1v1h-1zM16 11h1v1h-1zM20 11h1v1h-1zM22 11h1v1h-1zM24 11h1v1h-1zM12 12h1v1h-1zM15 12h1v1h-1zM17 12h1v1h-1zM21 12h1v1h-1zM9 13h1v1h-1zM16 13h1v1h-1zM19 13h1v1h-1zM24 13h1v1h-1zM26 13h1v1h-1zM28 13h1v1h-1zM31 13h1v1h-1zM2 14h1v1h-1zM28 14h1v1h-1zM5 15h1v1h-1zM7 15h1v1h-1zM10 15h1v1h-1zM18 15h1v1h-1zM9 16h1v1h-1zM12 16h1v1h-1zM20 16h1v1h-1zM23 16h1v1h-1zM3 17h1v1h-1zM5 17h1v1h-1zM8 17h1v1h-1zM11 17h1v1h-1zM14 17h1v1h-1zM22 17h1v1h-1zM4 18h1v1h-1zM7 18h1v1h-1zM9 18h1v1h-1zM15 18h1v1h-1zM20 18h1v1h-1zM22 18h1v1h-1zM24 18h1v1h-1zM5 19h1v1h-1zM7 19h1v1h-1zM11 19h1v1h-1zM18 19h1v1h-1zM27 19h1v1h-1zM29 19h1v1h-1zM10 20h1v1h-1zM13 20h1v1h-1zM15 20h1v1h-1zM31 20h1v1h-1zM0 21h1v1h-1zM3 21h1v1h-1zM9 21h1v1h-1zM18 21h1v1h-1zM24 21h1v1h-1zM27 21h1v1h-1zM1 22h1v1h-1zM6 22h1v1h-1zM17 22h1v1h-1zM21 22h1v1h-1zM28 22h1v1h-1zM8 23h1v1h-1zM14 23h1v1h-1zM16 23h1v1h-1zM30 23h1v1h-1zM1 24h1v1h-1zM5 24h1v1h-1zM7 24h1v1h-1zM13 24h1v1h-1zM17 24h1v1h-1zM19 24h1v1h-1zM21 24h1v1h-1zM23 24h1v1h-1zM25 24h1v1h-1zM3 25h1v1h-1zM11 25h1v1h-1zM17 25h1v1h-1zM20 25h1v1h-1zM23 25h1v1h-1zM28 25h1v1h-1zM31 25h1v1h-1zM1 26h1v1h-1zM5 26h1v1h-1zM12 26h1v1h-1zM15 26h1v1h-1zM18 26h1v1h-1zM24 26h1v1h-1zM4 27h1v1h-1zM9 27h1v1h-1zM14 27h1v1h-1zM5 28h1v1h-1zM11 28h1v1h-1zM13 28h1v1h-1zM20 28h1v1h-1zM25 28h1v1h-1zM3 29h1v1h-1zM17 29h1v1h-1zM19 29h1v1h-1zM27 29h1v1h-1zM29 29h1v1h-1zM1 30h1v1h-1zM7 30h1v1h-1zM11 30h1v1h-1zM14 30h1v1h-1zM16 30h1v1h-1zM20 30h1v1h-1zM30 30h1v1h-1zM3 31h1v1h-1zM10 31h1v1h-1zM13 31h1v1h-1zM18 31h1v1h-1zM22 31h1v1h-1zM29 31h1v1h-1z"/><path fill="#ffcccc" d="M8 0h1v1h-1zM16 0h1v1h-1zM7 1h1v1h-1zM17 1h1v1h-1zM20 1h1v1h-1zM26 1h1v1h-1zM28 1h1v1h-1zM6 2h1v1h-1zM10 3h1v1h-1zM26 3h1v1h-1zM28 3h1v1h-1zM5 4h1v1h-1zM16 4h1v1h-1zM19 4h1v1h-1zM29 4h1v1h-1zM6 5h1v1h-1zM26 5h1v1h-1zM28 5h1v1h-1zM8 6h1v1h-1zM25 6h1v1h-1zM1 7h1v1h-1zM15 7h1v1h-1zM27 7h1v1h-1zM0 8h1v1h-1zM7 8h1v1h-1zM18 8h1v1h-1zM6 9h1v1h-1zM11 9h1v1h-1zM22 9h1v1h-1zM27 9h1v1h-1zM7 10h1v1h-1zM12 10h1v1h-1zM28 10h1v1h-1zM21 11h1v1h-1zM23 11h1v1h-1zM16 12h1v1h-1zM25 12h1v1h-1zM20 13h1v1h-1zM29 13h1v1h-1zM6 15h1v1h-1zM8 16h1v1h-1zM10 16h1v1h-1zM22 16h1v1h-1zM12 17h1v1h-1zM15 17h1v1h-1zM3 18h1v1h-1zM5 18h1v1h-1zM8 18h1v1h-1zM14 18h1v1h-1zM21 18h1v1h-1zM6 19h1v1h-1zM28 19h1v1h-1zM14 20h1v1h-1zM2 21h1v1h-1zM28 21h1v1h-1zM0 22h1v1h-1zM18 22h1v1h-1zM29 22h1v1h-1zM7 23h1v1h-1zM13 23h1v1h-1zM17 23h1v1h-1zM24 23h1v1h-1zM0 24h1v1h-1zM3 24h1v1h-1zM14 24h1v1h-1zM16 24h1v1h-1zM22 24h1v1h-1zM12 25h1v1h-1zM19 25h1v1h-1zM21 25h1v1h-1zM24 25h1v1h-1zM30 25h1v1h-1zM14 26h1v1h-1zM17 26h1v1h-1zM25 26h1v1h-1zM5 27h1v1h-1zM13 27h1v1h-1zM12 28h1v1h-1zM16 29h1v1h-1zM28 29h1v1h-1zM2 30h1v1h-1zM29 30h1v1h-1zM14 31h1v1h-1zM28 31h1v1h-1z"/><path fill="#ffccff" d="M14 3h1v1h-1zM17 3h1v1h-1zM10 6h1v1h-1zM23 6h1v1h-1zM19 7h1v1h-1zM22 7h1v1h-1zM30 7h1v1h-1zM3 8h1v1h-1zM5 8h1v1h-1zM26 8h1v1h-1zM15 10h1v1h-1zM26 11h1v1h-1zM0 12h1v1h-1zM19 12h1v1h-1zM30 12h1v1h-1zM5 13h1v1h-1zM14 13h1v1h-1zM25 14h1v1h-1zM12 15h1v1h-1zM0 18h1v1h-1zM18 18h1v1h-1zM2 19h1v1h-1zM13 19h1v1h-1zM1 20h1v1h-1zM21 20h1v1h-1zM29 20h1v1h-1zM15 22h1v1h-1zM2 23h1v1h-1zM29 24h1v1h-1zM9 25h1v1h-1zM20 27h1v1h-1zM31 29h1v1h-1zM4 30h1v1h-1zM25 30h1v1h-1zM31 31h1v1h-1z"/></pattern>
<pattern id="dye" width="32" height="32" patternUnits="userSpaceOnUse"><rect width="32" height="32" fill="#ccc"/><path fill="#ffffcc" d="M0 0h1v1h-1zM4 0h1v1h-1zM6 0h1v1h-1zM8 0h1v1h-1zM10 0h1v1h-1zM12 0h1v1h-1zM14 0h1v1h-1zM18 0h1v1h-1zM22 0h1v1h-1zM25 0h1v1h-1zM27 0h1v1h-1zM29 0h2v1h-2zM1 1h1v1h-1zM3 1h1v1h-1zM5 1h1v1h-1zM9 1h1v1h-1zM11 1h1v1h-1zM15 1h1v1h-1zM17 1h1v1h-1zM21 1h1v1h-1zM23 1h2v1h-2zM28 1h1v1h-1zM0 2h1v1h-1zM2 2h1v1h-1zM4 2h1v1h-1zM8 2h1v1h-1zM10 2h1v1h-1zM12 2h1v1h-1zM14 2h1v1h-1zM16 2h1v1h-1zM18 2h1v1h-1zM20 2h1v1h-1zM22 2h1v1h-1zM25 2h1v1h-1zM27 2h1v1h-1zM29 2h1v1h-1zM31 2h1v1h-1zM1 3h1v1h-1zM5 3h1v1h-1zM7 3h1v1h-1zM9 3h1v1h-1zM13 3h1v1h-1zM15 3h1v1h-1zM18 3h1v1h-1zM20 3h1v1h-1zM22 3h1v1h-1zM24 3h1v1h-1zM26 3h1v1h-1zM28 3h1v1h-1zM30 3h1v1h-1zM0 4h1v1h-1zM2 4h1v1h-1zM4 4h1v1h-1zM6 4h1v1h-1zM8 4h1v1h-1zM11 4h1v1h-1zM13 4h1v1h-1zM15 4h1v1h-1zM17 4h1v1h-1zM19 4h1v1h-1zM21 4h1v1h-1zM23 4h1v1h-1zM25 4h1v1h-1zM27 4h1v1h-1zM29 4h1v1h-1zM31 4h1v1h-1zM1 5h1v1h-1zM4 5h1v1h-1zM6 5h1v1h-1zM8 5h1v1h-1zM10 5h1v1h-1zM12 5h1v1h-1zM14 5h1v1h-1zM18 5h1v1h-1zM20 5h1v1h-1zM22 5h1v1h-1zM26 5h1v1h-1zM28 5h1v1h-1zM0 6h1v1h-1zM2 6h1v1h-1zM4 6h1v1h-1zM6 6h1v1h-1zM8 6h1v1h-1zM10 6h1v1h-1zM12 6h1v1h-1zM14 6h1v1h-1zM16 6h1v1h-1zM18 6h1v1h-1zM21 6h1v1h-1zM23 6h1v1h-1zM25 6h1v1h-1zM27 6h1v1h-1zM29 6h1v1h-1zM31 6h1v1h-1zM1 7h1v1h-1zM3 7h1v1h-1zM5 7h1v1h-1zM7 7h1v1h-1zM9 7h1v1h-1zM13 7h1v1h-1zM15 7h1v1h-1zM17 7h1v1h-1zM19 7h2v1h-2zM22 7h1v1h-1zM24 7h1v1h-1zM26 7h1v1h-1zM28 7h1v1h-1zM30 7h1v1h-1zM1 8h1v1h-1zM3 8h1v1h-1zM5 8h1v1h-1zM8 8h1v1h-1zM10 8h1v1h-1zM13 8h1v1h-1zM17 8h1v1h-1zM21 8h1v1h-1zM25 8h1v1h-1zM27 8h1v1h-1zM29 8h1v1h-1zM31 8h1v1h-1zM0 9h1v1h-1zM4 9h1v1h-1zM6 9h1v1h-1zM8 9h1v1h-1zM10 9h1v1h-1zM12 9h1v1h-1zM14 9h1v1h-1zM16 9h1v1h-1zM18 9h2v1h-2zM21 9h1v1h-1zM23 9h1v1h-1zM25 9h1v1h-1zM27 9h1v1h-1zM29 9h1v1h-1zM31 9h1v1h-1zM1 10h1v1h-1zM3 10h1v1h-1zM5 10h1v1h-1zM7 10h1v1h-1zM9 10h1v1h-1zM11 10h1v1h-1zM13 10h1v1h-1zM15 10h1v1h-1zM17 10h1v1h-1zM21 10h1v1h-1zM23 10h1v1h-1zM25 10h1v1h-1zM28 10h1v1h-1zM30 10h1v1h-1zM1 11h1v1h-1zM3 11h1v1h-1zM5 11h1v1h-1zM7 11h1v1h-1zM11 11h1v1h-1zM13 11h1v1h-1zM15 11h1v1h-1zM17 11h1v1h-1zM19 11h1v1h-1zM21 11h1v1h-1zM23 11h1v1h-1zM25 11h1v1h-1zM28 11h1v1h-1zM30 11h1v1h-1zM1 12h1v1h-1zM3 12h1v1h-1zM5 12h1v1h-1zM7 12h1v1h-1zM9 12h1v1h-1zM11 12h1v1h-1zM13 12h1v1h-1zM15 12h1v1h-1zM18 12h1v1h-1zM20 12h1v1h-1zM24 12h1v1h-1zM26 12h1v1h-1zM29 12h1v1h-1zM31 12h1v1h-1zM2 13h1v1h-1zM4 13h1v1h-1zM6 13h1v1h-1zM8 13h1v1h-1zM10 13h1v1h-1zM13 13h1v1h-1zM19 13h1v1h-1zM21 13h1v1h-1zM23 13h1v1h-1zM26 13h1v1h-1zM28 13h1v1h-1zM30 13h1v1h-1zM0 14h1v1h-1zM2 14h1v1h-1zM4 14h1v1h-1zM6 14h1v1h-1zM8 14h1v1h-1zM10 14h1v1h-1zM12 14h1v1h-1zM14 14h1v1h-1zM16 14h1v1h-1zM18 14h1v1h-1zM22 14h1v1h-1zM24 14h2v1h-2zM27 14h1v1h-1zM29 14h1v1h-1zM31 14h1v1h-1zM0 15h1v1h-1zM2 15h1v1h-1zM6 15h1v1h-1zM8 15h1v1h-1zM10 15h1v1h-1zM12 15h1v1h-1zM16 15h1v1h-1zM21 15h1v1h-1zM23 15h1v1h-1zM26 15h1v1h-1zM28 15h1v1h-1zM2 16h1v1h-1zM4 16h1v1h-1zM6 16h1v1h-1zM8 16h1v1h-1zM12 16h1v1h-1zM14 16h1v1h-1zM16 16h1v1h-1zM18 16h1v1h-1zM20 16h1v1h-1zM22 16h1v1h-1zM24 16h1v1h-1zM26 16h1v1h-1zM28 16h1v1h-1zM0 17h1v1h-1zM2 17h1v1h-1zM4 17h1v1h-1zM6 17h1v1h-1zM8 17h1v1h-1zM10 17h1v1h-1zM12 17h1v1h-1zM14 17h1v1h-1zM16 17h1v1h-1zM18 17h1v1h-1zM20 17h1v1h-1zM22 17h1v1h-1zM24 17h1v1h-1zM26 17h1v1h-1zM28 17h1v1h-1zM30 17h1v1h-1zM0 18h1v1h-1zM6 18h1v1h-1zM8 18h1v1h-1zM10 18h1v1h-1zM12 18h1v1h-1zM14 18h1v1h-1zM16 18h1v1h-1zM18 18h1v1h-1zM20 18h1v1h-1zM22 18h1v1h-1zM24 18h1v1h-1zM26 18h1v1h-1zM28 18h1v1h-1zM30 18h1v1h-1zM1 19h1v1h-1zM3 19h1v1h-1zM5 19h1v1h-1zM10 19h1v1h-1zM12 19h1v1h-1zM14 19h1v1h-1zM16 19h1v1h-1zM18 19h1v1h-1zM20 19h1v1h-1zM22 19h1v1h-1zM26 19h1v1h-1zM28 19h1v1h-1zM30 19h1v1h-1zM0 20h1v1h-1zM2 20h1v1h-1zM4 20h1v1h-1zM8 20h1v1h-1zM11 20h1v1h-1zM15 20h1v1h-1zM19 20h1v1h-1zM21 20h1v1h-1zM23 20h1v1h-1zM25 20h1v1h-1zM27 20h1v1h-1zM29 20h1v1h-1zM31 20h1v1h-1zM2 21h1v1h-1zM4 21h1v1h-1zM6 21h1v1h-1zM8 21h1v1h-1zM10 21h1v1h-1zM12 21h1v1h-1zM14 21h1v1h-1zM16 21h1v1h-1zM18 21h1v1h-1zM22 21h1v1h-1zM24 21h1v1h-1zM26 21h1v1h-1zM30 21h1v1h-1zM0 22h1v1h-1zM4 22h1v1h-1zM6 22h1v1h-1zM8 22h1v1h-1zM10 22h1v1h-1zM12 22h1v1h-1zM14 22h1v1h-1zM19 22h1v1h-1zM21 22h1v1h-1zM23 22h1v1h-1zM25 22h1v1h-1zM27 22h1v1h-1zM29 22h1v1h-1zM31 22h1v1h-1zM1 23h1v1h-1zM7 23h1v1h-1zM9 23h1v1h-1zM11 23h1v1h-1zM13 23h1v1h-1zM15 23h2v1h-2zM18 23h1v1h-1zM20 23h1v1h-1zM22 23h1v1h-1zM24 23h1v1h-1zM26 23h1v1h-1zM28 23h1v1h-1zM30 23h1v1h-1zM1 24h1v1h-1zM3 24h1v1h-1zM5 24h1v1h-1zM7 24h1v1h-1zM11 24h1v1h-1zM13 24h1v1h-1zM16 24h1v1h-1zM18 24h1v1h-1zM21 24h1v1h-1zM23 24h1v1h-1zM25 24h1v1h-1zM27 24h1v1h-1zM29 24h1v1h-1zM31 24h1v1h-1zM0 25h1v1h-1zM2 25h1v1h-1zM4 25h1v1h-1zM7 25h1v1h-1zM9 25h1v1h-1zM11 25h1v1h-1zM13 25h1v1h-1zM17 25h1v1h-1zM20 25h1v1h-1zM22 25h1v1h-1zM24 25h1v1h-1zM27 25h1v1h-1zM29 25h1v1h-1zM31 25h1v1h-1zM1 26h1v1h-1zM3 26h1v1h-1zM6 26h1v1h-1zM8 26h1v1h-1zM10 26h1v1h-1zM12 26h1v1h-1zM14 26h1v1h-1zM16 26h1v1h-1zM18 26h1v1h-1zM21 26h1v1h-1zM23 26h1v1h-1zM25 26h2v1h-2zM28 26h1v1h-1zM30 26h1v1h-1zM0 27h1v1h-1zM2 27h1v1h-1zM7 27h1v1h-1zM9 27h1v1h-1zM11 27h1v1h-1zM13 27h1v1h-1zM18 27h1v1h-1zM20 27h1v1h-1zM22 27h1v1h-1zM24 27h1v1h-1zM26 27h1v1h-1zM28 27h1v1h-1zM30 27h1v1h-1zM0 28h1v1h-1zM2 28h1v1h-1zM4 28h1v1h-1zM6 28h1v1h-1zM8 28h1v1h-1zM10 28h1v1h-1zM12 28h1v1h-1zM14 28h1v1h-1zM16 28h1v1h-1zM18 28h1v1h-1zM20 28h1v1h-1zM24 28h1v1h-1zM28 28h1v1h-1zM30 28h1v1h-1zM1 29h1v1h-1zM5 29h1v1h-1zM7 29h1v1h-1zM9 29h1v1h-1zM13 29h1v1h-1zM15 29h1v1h-1zM19 29h1v1h-1zM21 29h1v1h-1zM23 29h1v1h-1zM25 29h1v1h-1zM27 29h1v1h-1zM29 29h1v1h-1zM3 30h1v1h-1zM5 30h1v1h-1zM7 30h1v1h-1zM9 30h1v1h-1zM12 30h1v1h-1zM14 30h1v1h-1zM16 30h1v1h-1zM18 30h1v1h-1zM20 30h1v1h-1zM22 30h1v1h-1zM24 30h1v1h-1zM26 30h1v1h-1zM28 30h1v1h-1zM0 31h1v1h-1zM2 31h1v1h-1zM4 31h1v1h-1zM6 31h1v1h-1zM8 31h1v1h-1zM10 31h2v1h-2zM15 31h1v1h-1zM19 31h1v1h-1zM21 31h1v1h-1zM23 31h1v1h-1zM25 31h1v1h-1zM27 31h1v1h-1zM29 31h1v1h-1zM31 31h1v1h-1z"/><path fill="#ffffff" d="M1 0h1v1h-1zM3 0h1v1h-1zM5 0h1v1h-1zM7 0h1v1h-1zM9 0h1v1h-1zM11 0h1v1h-1zM13 0h1v1h-1zM15 0h1v1h-1zM17 0h1v1h-1zM19 0h1v1h-1zM21 0h1v1h-1zM23 0h2v1h-2zM26 0h1v1h-1zM28 0h1v1h-1zM31 0h1v1h-1zM2 1h1v1h-1zM4 1h1v1h-1zM6 1h1v1h-1zM8 1h1v1h-1zM10 1h1v1h-1zM12 1h1v1h-1zM14 1h1v1h-1zM16 1h1v1h-1zM18 1h1v1h-1zM20 1h1v1h-1zM22 1h1v1h-1zM25 1h1v1h-1zM27 1h1v1h-1zM29 1h1v1h-1zM31 1h1v1h-1zM1 2h1v1h-1zM3 2h1v1h-1zM5 2h1v1h-1zM7 2h1v1h-1zM9 2h1v1h-1zM13 2h1v1h-1zM15 2h1v1h-1zM17 2h1v1h-1zM19 2h1v1h-1zM21 2h1v1h-1zM23 2h1v1h-1zM26 2h1v1h-1zM28 2h1v1h-1zM30 2h1v1h-1zM0 3h1v1h-1zM2 3h1v1h-1zM4 3h1v1h-1zM6 3h1v1h-1zM8 3h1v1h-1zM10 3h1v1h-1zM12 3h1v1h-1zM14 3h1v1h-1zM16 3h2v1h-2zM19 3h1v1h-1zM21 3h1v1h-1zM23 3h1v1h-1zM25 3h1v1h-1zM27 3h1v1h-1zM29 3h1v1h-1zM31 3h1v1h-1zM1 4h1v1h-1zM5 4h1v1h-1zM7 4h1v1h-1zM9 4h2v1h-2zM12 4h1v1h-1zM14 4h1v1h-1zM18 4h1v1h-1zM20 4h1v1h-1zM22 4h1v1h-1zM24 4h1v1h-1zM26 4h1v1h-1zM28 4h1v1h-1zM30 4h1v1h-1zM0 5h1v1h-1zM2 5h2v1h-2zM5 5h1v1h-1zM7 5h1v1h-1zM9 5h1v1h-1zM11 5h1v1h-1zM13 5h1v1h-1zM15 5h1v1h-1zM17 5h1v1h-1zM19 5h1v1h-1zM23 5h1v1h-1zM25 5h1v1h-1zM29 5h1v1h-1zM31 5h1v1h-1zM1 6h1v1h-1zM3 6h1v1h-1zM5 6h1v1h-1zM9 6h1v1h-1zM11 6h1v1h-1zM13 6h1v1h-1zM15 6h1v1h-1zM17 6h1v1h-1zM20 6h1v1h-1zM22 6h1v1h-1zM24 6h1v1h-1zM26 6h1v1h-1zM30 6h1v1h-1zM0 7h1v1h-1zM2 7h1v1h-1zM6 7h1v1h-1zM10 7h1v1h-1zM12 7h1v1h-1zM14 7h1v1h-1zM16 7h1v1h-1zM18 7h1v1h-1zM21 7h1v1h-1zM23 7h1v1h-1zM25 7h1v1h-1zM27 7h1v1h-1zM29 7h1v1h-1zM31 7h1v1h-1zM0 8h1v1h-1zM2 8h1v1h-1zM4 8h1v1h-1zM6 8h2v1h-2zM9 8h1v1h-1zM12 8h1v1h-1zM14 8h1v1h-1zM16 8h1v1h-1zM18 8h1v1h-1zM20 8h1v1h-1zM22 8h1v1h-1zM24 8h1v1h-1zM28 8h1v1h-1zM1 9h1v1h-1zM3 9h1v1h-1zM5 9h1v1h-1zM7 9h1v1h-1zM9 9h1v1h-1zM11 9h1v1h-1zM13 9h1v1h-1zM15 9h1v1h-1zM17 9h1v1h-1zM20 9h1v1h-1zM24 9h1v1h-1zM26 9h1v1h-1zM28 9h1v1h-1zM30 9h1v1h-1zM0 10h1v1h-1zM4 10h1v1h-1zM6 10h1v1h-1zM8 10h1v1h-1zM10 10h1v1h-1zM12 10h1v1h-1zM16 10h1v1h-1zM18 10h1v1h-1zM20 10h1v1h-1zM22 10h1v1h-1zM24 10h1v1h-1zM26 10h2v1h-2zM29 10h1v1h-1zM31 10h1v1h-1zM0 11h1v1h-1zM2 11h1v1h-1zM4 11h1v1h-1zM8 11h1v1h-1zM10 11h1v1h-1zM14 11h1v1h-1zM16 11h1v1h-1zM18 11h1v1h-1zM20 11h1v1h-1zM22 11h1v1h-1zM24 11h1v1h-1zM26 11h1v1h-1zM29 11h1v1h-1zM31 11h1v1h-1zM0 12h1v1h-1zM2 12h1v1h-1zM4 12h1v1h-1zM6 12h1v1h-1zM8 12h1v1h-1zM10 12h1v1h-1zM12 12h1v1h-1zM14 12h1v1h-1zM16 12h2v1h-2zM19 12h1v1h-1zM21 12h1v1h-1zM23 12h1v1h-1zM25 12h1v1h-1zM27 12h1v1h-1zM30 12h1v1h-1zM1 13h1v1h-1zM3 13h1v1h-1zM5 13h1v1h-1zM7 13h1v1h-1zM9 13h1v1h-1zM11 13h2v1h-2zM14 13h2v1h-2zM18 13h1v1h-1zM20 13h1v1h-1zM22 13h1v1h-1zM25 13h1v1h-1zM27 13h1v1h-1zM31 13h1v1h-1zM1 14h1v1h-1zM5 14h1v1h-1zM7 14h1v1h-1zM11 14h1v1h-1zM13 14h1v1h-1zM15 14h1v1h-1zM17 14h1v1h-1zM19 14h1v1h-1zM21 14h1v1h-1zM23 14h1v1h-1zM26 14h1v1h-1zM28 14h1v1h-1zM30 14h1v1h-1zM1 15h1v1h-1zM3 15h1v1h-1zM5 15h1v1h-1zM9 15h1v1h-1zM11 15h1v1h-1zM15 15h1v1h-1zM17 15h2v1h-2zM20 15h1v1h-1zM24 15h2v1h-2zM27 15h1v1h-1zM29 15h1v1h-1zM31 15h1v1h-1zM1 16h1v1h-1zM3 16h1v1h-1zM5 16h1v1h-1zM7 16h1v1h-1zM9 16h1v1h-1zM11 16h1v1h-1zM13 16h1v1h-1zM15 16h1v1h-1zM17 16h1v1h-1zM19 16h1v1h-1zM21 16h1v1h-1zM23 16h1v1h-1zM27 16h1v1h-1zM29 16h1v1h-1zM31 16h1v1h-1zM1 17h1v1h-1zM3 17h1v1h-1zM5 17h1v1h-1zM7 17h1v1h-1zM9 17h1v1h-1zM11 17h1v1h-1zM13 17h1v1h-1zM15 17h1v1h-1zM17 17h1v1h-1zM19 17h1v1h-1zM21 17h1v1h-1zM23 17h1v1h-1zM25 17h1v1h-1zM29 17h1v1h-1zM31 17h1v1h-1zM1 18h1v1h-1zM3 18h1v1h-1zM5 18h1v1h-1zM7 18h1v1h-1zM9 18h1v1h-1zM11 18h1v1h-1zM13 18h1v1h-1zM15 18h1v1h-1zM19 18h1v1h-1zM21 18h1v1h-1zM23 18h1v1h-1zM25 18h1v1h-1zM27 18h1v1h-1zM29 18h1v1h-1zM31 18h1v1h-1zM0 19h1v1h-1zM2 19h1v1h-1zM4 19h1v1h-1zM6 19h2v1h-2zM11 19h1v1h-1zM13 19h1v1h-1zM15 19h1v1h-1zM17 19h1v1h-1zM19 19h1v1h-1zM21 19h1v1h-1zM25 19h1v1h-1zM27 19h1v1h-1zM29 19h1v1h-1zM31 19h1v1h-1zM1 20h1v1h-1zM3 20h1v1h-1zM5 20h1v1h-1zM7 20h1v1h-1zM9 20h2v1h-2zM12 20h1v1h-1zM14 20h1v1h-1zM16 20h1v1h-1zM18 20h1v1h-1zM20 20h1v1h-1zM22 20h1v1h-1zM24 20h1v1h-1zM26 20h1v1h-1zM28 20h1v1h-1zM1 21h1v1h-1zM3 21h1v1h-1zM5 21h1v1h-1zM7 21h1v1h-1zM9 21h1v1h-1zM11 21h1v1h-1zM13 21h1v1h-1zM15 21h1v1h-1zM17 21h1v1h-1zM19 21h1v1h-1zM23 21h1v1h-1zM25 21h1v1h-1zM27 21h1v1h-1zM29 21h1v1h-1zM31 21h1v1h-1zM1 22h1v1h-1zM3 22h1v1h-1zM5 22h1v1h-1zM7 22h1v1h-1zM11 22h1v1h-1zM13 22h1v1h-1zM15 22h2v1h-2zM18 22h1v1h-1zM20 22h1v1h-1zM22 22h1v1h-1zM24 22h1v1h-1zM26 22h1v1h-1zM28 22h1v1h-1zM30 22h1v1h-1zM0 23h1v1h-1zM2 23h1v1h-1zM4 23h1v1h-1zM6 23h1v1h-1zM8 23h1v1h-1zM10 23h1v1h-1zM14 23h1v1h-1zM17 23h1v1h-1zM19 23h1v1h-1zM21 23h1v1h-1zM23 23h1v1h-1zM27 23h1v1h-1zM29 23h1v1h-1zM31 23h1v1h-1zM0 24h1v1h-1zM2 24h1v1h-1zM4 24h1v1h-1zM6 24h1v1h-1zM8 24h1v1h-1zM10 24h1v1h-1zM14 24h2v1h-2zM17 24h1v1h-1zM19 24h2v1h-2zM22 24h1v1h-1zM24 24h1v1h-1zM26 24h1v1h-1zM1 25h1v1h-1zM3 25h1v1h-1zM5 25h2v1h-2zM8 25h1v1h-1zM10 25h1v1h-1zM12 25h1v1h-1zM14 25h1v1h-1zM16 25h1v1h-1zM18 25h1v1h-1zM21 25h1v1h-1zM23 25h1v1h-1zM25 25h2v1h-2zM28 25h1v1h-1zM30 25h1v1h-1zM0 26h1v1h-1zM2 26h1v1h-1zM4 26h1v1h-1zM9 26h1v1h-1zM11 26h1v1h-1zM13 26h1v1h-1zM15 26h1v1h-1zM17 26h1v1h-1zM19 26h2v1h-2zM22 26h1v1h-1zM24 26h1v1h-1zM29 26h1v1h-1zM31 26h1v1h-1zM1 27h1v1h-1zM3 27h1v1h-1zM5 27h2v1h-2zM8 27h1v1h-1zM10 27h1v1h-1zM12 27h1v1h-1zM14 27h1v1h-1zM16 27h2v1h-2zM21 27h1v1h-1zM25 27h1v1h-1zM27 27h1v1h-1zM29 27h1v1h-1zM31 27h1v1h-1zM1 28h1v1h-1zM3 28h1v1h-1zM5 28h1v1h-1zM7 28h1v1h-1zM9 28h1v1h-1zM13 28h1v1h-1zM15 28h1v1h-1zM17 28h1v1h-1zM19 28h1v1h-1zM21 28h1v1h-1zM23 28h1v1h-1zM25 28h1v1h-1zM27 28h1v1h-1zM29 28h1v1h-1zM31 28h1v1h-1zM2 29h1v1h-1zM4 29h1v1h-1zM6 29h1v1h-1zM10 29h1v1h-1zM12 29h1v1h-1zM14 29h1v1h-1zM16 29h1v1h-1zM18 29h1v1h-1zM20 29h1v1h-1zM22 29h1v1h-1zM24 29h1v1h-1zM26 29h1v1h-1zM28 29h1v1h-1zM30 29h1v1h-1zM0 30h1v1h-1zM2 30h1v1h-1zM4 30h1v1h-1zM6 30h1v1h-1zM10 30h2v1h-2zM13 30h1v1h-1zM15 30h1v1h-1zM17 30h1v1h-1zM19 30h1v1h-1zM21 30h1v1h-1zM23 30h1v1h-1zM25 30h1v1h-1zM27 30h1v1h-1zM29 30h1v1h-1zM31 30h1v1h-1zM1 31h1v1h-1zM5 31h1v1h-1zM7 31h1v1h-1zM9 31h1v1h-1zM12 31h1v1h-1zM14 31h1v1h-1zM16 31h1v1h-1zM18 31h1v1h-1zM22 31h1v1h-1zM24 31h1v1h-1zM28 31h1v1h-1zM30 31h1v1h-1z"/><path fill="#ffcccc" d="M2 0h1v1h-1zM7 1h1v1h-1zM13 1h1v1h-1zM19 1h1v1h-1zM30 1h1v1h-1zM16 5h1v1h-1zM9 11h1v1h-1zM17 13h1v1h-1zM20 14h1v1h-1zM14 15h1v1h-1zM30 15h1v1h-1zM10 16h1v1h-1zM4 18h1v1h-1zM8 19h1v1h-1zM20 21h1v1h-1zM28 21h1v1h-1zM2 22h1v1h-1zM17 22h1v1h-1zM5 23h1v1h-1zM4 27h1v1h-1zM15 27h1v1h-1zM11 29h1v1h-1zM31 29h1v1h-1zM13 31h1v1h-1zM17 31h1v1h-1z"/><path fill="#ccffcc" d="M20 0h1v1h-1zM26 1h1v1h-1zM6 2h1v1h-1zM3 3h1v1h-1zM11 3h1v1h-1zM24 5h1v1h-1zM30 5h1v1h-1zM11 7h1v1h-1zM15 8h1v1h-1zM23 8h1v1h-1zM2 9h1v1h-1zM19 10h1v1h-1zM27 11h1v1h-1zM22 12h1v1h-1zM0 13h1v1h-1zM16 13h1v1h-1zM4 15h1v1h-1zM19 15h1v1h-1zM30 16h1v1h-1zM2 18h1v1h-1zM24 19h1v1h-1zM6 20h1v1h-1zM17 20h1v1h-1zM0 21h1v1h-1zM3 23h1v1h-1zM9 24h1v1h-1zM15 25h1v1h-1zM19 25h1v1h-1zM5 26h1v1h-1zM22 28h1v1h-1zM26 28h1v1h-1zM3 29h1v1h-1zM17 29h1v1h-1zM1 30h1v1h-1zM30 30h1v1h-1z"/><path fill="#ccffff" d="M0 1h1v1h-1zM16 4h1v1h-1zM19 6h1v1h-1zM28 6h1v1h-1zM8 7h1v1h-1zM6 11h1v1h-1zM12 11h1v1h-1zM29 13h1v1h-1zM9 14h1v1h-1zM13 15h1v1h-1zM22 15h1v1h-1zM27 17h1v1h-1zM9 19h1v1h-1zM30 20h1v1h-1zM21 21h1v1h-1zM12 23h1v1h-1zM28 24h1v1h-1zM11 28h1v1h-1zM8 29h1v1h-1zM20 31h1v1h-1z"/><path fill="#ffccff" d="M11 2h1v1h-1zM24 2h1v1h-1zM3 4h1v1h-1zM21 5h1v1h-1zM27 5h1v1h-1zM7 6h1v1h-1zM11 8h1v1h-1zM19 8h1v1h-1zM26 8h1v1h-1zM30 8h1v1h-1zM22 9h1v1h-1zM2 10h1v1h-1zM14 10h1v1h-1zM28 12h1v1h-1zM24 13h1v1h-1zM3 14h1v1h-1zM7 15h1v1h-1zM0 16h1v1h-1zM25 16h1v1h-1zM17 18h1v1h-1zM23 19h1v1h-1zM9 22h1v1h-1zM12 24h1v1h-1zM30 24h1v1h-1zM7 26h1v1h-1zM27 26h1v1h-1zM19 27h1v1h-1zM23 27h1v1h-1zM0 29h1v1h-1zM8 30h1v1h-1zM3 31h1v1h-1zM26 31h1v1h-1z"/><path fill="#ccccff" d="M4 7h1v1h-1zM25 23h1v1h-1z"/></pattern>
<clipPath id="cclip"><rect x="2" y="2" width="207" height="259"/></clipPath>
<symbol id="cbg" viewBox="0 0 211 263"><rect x="0" y="0" width="211" height="263" fill="#fff"/><rect x="2" y="2" width="207" height="259" fill="url(#dg)"/><g clip-path="url(#cclip)"><path fill="url(#dye)" fill-opacity=".9" d="M58.5 23.9L-132.5 -58.7L-135.2 -52.0L57.6 25.9zM28.7 34.5L-151.7 10.2L-152.5 17.3L28.4 36.7zM56.3 50.3L-152.3 74.9L-151.4 82.1L56.6 52.5zM56.8 61.9L-139.3 131.4L-136.8 138.2L57.6 64.0zM63.9 72.0L-111.6 187.4L-107.5 193.4L65.2 73.9zM153.7 29.9L353.3 -35.4L351.0 -42.2L153.0 27.8zM163.7 38.7L364.3 15.5L363.4 8.4L163.4 36.5zM157.4 52.8L363.4 82.1L364.3 74.9L157.7 50.6zM160.5 64.8L350.8 132.6L353.1 125.8L161.2 62.7zM156.3 81.2L317.7 196.0L321.8 190.1L157.6 79.4zM141.8 23.0L325.8 -94.0L321.8 -100.0L140.6 21.1zM123.0 22.7L258.4 -165.6L252.6 -169.8L121.2 21.5zM115.1 20.6L189.8 -201.2L182.9 -203.4L113.0 19.9zM108.8 17.1L125.5 -214.3L118.3 -214.7L106.6 17.0zM78.7 21.5L-93.8 -121.4L-98.3 -115.8L77.3 23.2zM95.9 18.9L6.0 -195.0L-0.6 -192.2L93.9 19.7zM87.9 21.0L-55.2 -159.0L-60.8 -154.5L86.2 22.4zM102.2 17.2L64.4 -211.7L57.3 -210.4L100.1 17.6zM132.7 20.8L295.5 -133.0L290.5 -138.2L131.1 19.2z"/><ellipse cx="106" cy="24" rx="46" ry="12" fill="#fff" fill-opacity=".3"/><g fill="#fff" fill-opacity=".36"><circle cx="91.8" cy="16.0" r="4.5"/><circle cx="70.2" cy="23.7" r="3.6"/><circle cx="69.0" cy="23.1" r="2.6"/><circle cx="101.3" cy="14.4" r="2.8"/><circle cx="100.5" cy="29.5" r="2.9"/><circle cx="83.2" cy="25.5" r="5.3"/><circle cx="113.6" cy="20.9" r="5.4"/><circle cx="68.0" cy="30.2" r="3.4"/><circle cx="76.4" cy="15.4" r="3.4"/><circle cx="134.2" cy="16.6" r="4.2"/><circle cx="118.9" cy="20.4" r="4.1"/><circle cx="69.4" cy="14.2" r="3.1"/><circle cx="122.5" cy="21.6" r="3.4"/><circle cx="114.4" cy="22.1" r="3.4"/><circle cx="132.3" cy="27.0" r="3.2"/><circle cx="113.4" cy="23.5" r="5.1"/><circle cx="126.7" cy="18.8" r="5.4"/><circle cx="74.2" cy="21.4" r="4.8"/><circle cx="77.1" cy="22.8" r="2.6"/><circle cx="121.5" cy="28.3" r="4.2"/><circle cx="139.3" cy="19.3" r="4.6"/><circle cx="115.1" cy="24.6" r="3.9"/><circle cx="136.2" cy="31.9" r="3.9"/><circle cx="121.1" cy="14.2" r="4.6"/><circle cx="119.7" cy="32.9" r="5.0"/><circle cx="88.5" cy="20.7" r="4.5"/><circle cx="65.9" cy="22.2" r="3.0"/><circle cx="74.1" cy="14.2" r="4.8"/><circle cx="75.1" cy="18.0" r="3.7"/><circle cx="138.9" cy="14.6" r="3.8"/><circle cx="111.3" cy="30.7" r="5.0"/><circle cx="138.3" cy="18.6" r="3.7"/><circle cx="94.9" cy="30.7" r="5.4"/><circle cx="77.0" cy="16.5" r="3.2"/><circle cx="84.1" cy="22.7" r="4.3"/><circle cx="86.6" cy="13.1" r="3.8"/><circle cx="95.8" cy="24.3" r="5.4"/><circle cx="123.4" cy="23.3" r="4.4"/><circle cx="122.2" cy="14.1" r="5.2"/><circle cx="131.1" cy="30.5" r="4.9"/></g><path fill="url(#dgn)" d="M54.5 35 Q108 31.5 163 35 L161 55 L154 56 L151 100 L147 125 L144 125 L143 141 Q110 146 78 141 L78 125 L54.5 125z"/><g stroke="#fff" stroke-opacity=".42" stroke-width="3" stroke-linecap="round" fill="none"><path d="M58 56.5 L159 54.5"/><path d="M62 75 L151 73"/><path d="M64 92.5 L149 90.5"/><path d="M70 108.5 L148 106.5"/><path d="M82 127.5 L143 127"/></g><path fill="url(#dgn)" fill-opacity=".62" d="M48 213 L128 195.5 L145 204 L143 215 L70 242 L47 221z"/><path fill="none" stroke="#f2fff2" stroke-opacity=".7" stroke-width="1.2" d="M56 215 L126 200 L138 206 L136 214 L73 236 L55 221z"/><ellipse cx="158.5" cy="241.5" rx="5" ry="3" fill="#fff" fill-opacity=".6"/></g><rect x=".5" y=".5" width="210" height="262" fill="none" stroke="#c3ccc4"/><g stroke="#5a5a5a" stroke-width="1.25" fill="none"><path d="M54 33 V216"/><path d="M49.5 33.6 H54M49.5 51.8 H54M49.5 70.0 H54M49.5 88.2 H54M49.5 106.4 H54M49.5 142.8 H54M49.5 161.0 H54M49.5 179.2 H54M49.5 197.4 H54M49.5 215.6 H54"/></g><path stroke="#7d7d7d" stroke-width="1.6" d="M49.5 125 H179"/><g font-family="Liberation Sans, sans-serif" font-weight="bold" fill="#4e4e4e"><text x="47" y="36.9" font-size="10" text-anchor="end" textLength="26.5" lengthAdjust="spacing">5,000</text><text x="47.4" y="218.7" font-size="10" text-anchor="end" textLength="31" lengthAdjust="spacing">-5,000</text><text transform="translate(182.2 166) rotate(-90)" font-size="11" textLength="27.5" lengthAdjust="spacingAndGlyphs">30,000</text><text y="250.1" font-size="9.6" fill="#3e3e3e"><tspan x="5" font-weight="normal" stroke="#3e3e3e" stroke-width=".3" textLength="10.6" lengthAdjust="spacingAndGlyphs">(C)</tspan> <tspan x="19.8" textLength="37.4" lengthAdjust="spacing">Daikoku</tspan> <tspan x="61.2" textLength="28.8" lengthAdjust="spacing">Denki.</tspan></text></g></symbol>
</defs></svg>
<h2 id="h1"><span class="d">10</span><span class="jt">箇所目</span></h2>
<div class="charts">
<div class="cbox" style="left:0px"><a><span class="jt">台番</span>:2102</a><svg class="chart" width="211" height="263" viewBox="0 0 211 263" role="img"><title>台番:2102</title><use href="#cbg" width="211" height="263"/><polyline fill="none" stroke="#d7a32b" stroke-width="1.6" stroke-linejoin="round" stroke-linecap="round" points="54.6,124.7 56.6,117.9 58.9,111.0 60.6,109.0 61.8,111.0 64.0,106.2 66.2,108.4 68.0,109.6 69.7,113.6 71.7,111.3 73.4,112.7 75.1,110.1 76.9,110.7 78.6,114.4 80.3,119.6 82.3,123.9 84.0,124.7 85.8,119.6 88.0,107.6 89.7,99.0 91.4,92.1 93.1,89.6 94.5,90.1 95.7,86.1 97.4,80.1 99.1,71.6 100.9,63.0 102.6,57.0 103.9,55.8 105.1,58.7 106.9,56.5 108.6,57.9 109.8,59.6 111.1,55.3 112.5,47.6 113.7,41.6 115.1,39.9 116.6,41.1 118.0,44.1 119.4,48.4"/><text x="95.1" y="230.1" font-family="Liberation Sans, Noto Sans CJK JP, sans-serif" font-size="10.9" font-weight="bold" fill="#444" letter-spacing=".3">最大値：</text><text x="141.3" y="229.8" font-family="Liberation Sans, sans-serif" font-size="10" fill="#4a4a4a" stroke="#4a4a4a" stroke-width=".25">4680</text></svg></div>
<div class="cbox" style="left:217px"><a><span class="jt">台番</span>:2103</a><svg class="chart" width="211" height="263" viewBox="0 0 211 263" role="img"><title>台番:2103</title><use href="#cbg" width="211" height="263"/><polyline fill="none" stroke="#d7a32b" stroke-width="1.6" stroke-linejoin="round" stroke-linecap="round" points="54.5,125.6 57.7,133.0 60.8,139.4 64.0,144.1 66.1,144.7 68.3,137.3 71.0,124.6 73.6,114.0 76.1,106.5 77.8,105.9 79.9,110.8 82.5,116.1 84.6,119.9 87.4,120.3 89.5,111.8 92.2,100.2 94.8,89.6 96.9,84.7 99.0,88.5 101.6,94.4 103.7,94.9 106.4,99.1 109.6,101.7 112.2,100.8 114.9,102.9 118.1,103.8 121.3,108.0 123.4,101.2 126.2,90.6 128.7,80.0 131.3,71.5 133.0,72.0 135.5,78.3 138.3,75.4 140.8,74.1 143.1,70.5 145.3,71.5 146.7,70.5 149.5,74.7 152.0,79.6 154.2,84.7 156.3,83.2 159.5,88.5"/><text x="95.1" y="230.1" font-family="Liberation Sans, Noto Sans CJK JP, sans-serif" font-size="10.9" font-weight="bold" fill="#444" letter-spacing=".3">最大値：</text><text x="141.3" y="229.8" font-family="Liberation Sans, sans-serif" font-size="10" fill="#4a4a4a" stroke="#4a4a4a" stroke-width=".25">3041</text></svg></div>
<div class="cbox" style="left:434px"><a><span class="jt">台番</span>:2105</a><svg class="chart" width="211" height="263" viewBox="0 0 211 263" role="img"><title>台番:2105</title><use href="#cbg" width="211" height="263"/><polyline fill="none" stroke="#d7a32b" stroke-width="1.6" stroke-linejoin="round" stroke-linecap="round" points="54.5,125.3 56.4,130.5 59.1,137.0 61.7,143.6 64.5,148.5 66.2,145.5 68.5,137.0 69.9,133.1 71.1,133.8 72.8,128.6 74.5,123.3 75.8,122.0 77.3,125.3 79.3,130.5 81.5,134.4 83.9,137.7 85.4,136.8 88.0,142.0 89.7,135.7 91.7,127.9 93.7,121.4 95.9,116.2"/><text x="95.1" y="230.1" font-family="Liberation Sans, Noto Sans CJK JP, sans-serif" font-size="10.9" font-weight="bold" fill="#444" letter-spacing=".3">最大値：</text><text x="141.3" y="229.8" font-family="Liberation Sans, sans-serif" font-size="10" fill="#4a4a4a" stroke="#4a4a4a" stroke-width=".25">460</text></svg></div>
</div>
<table id="t1"><colgroup><col style="width:121px"><col style="width:139px"><col style="width:161px"><col style="width:83px"><col style="width:84px"><col style="width:102px"></colgroup>
<tr style="height:28px"><th><span class="jt">台番</span></th><th><span class="jt">機種名</span></th><th><span class="jt">ゲーム数</span></th><th><span class="n">BB</span></th><th><span class="n">RB</span></th><th><span class="jt">差枚</span></th></tr>
<tr><th><span class="n">2102</span></th><td><span class="jt">チバリヨ</span></td><td>2711</td><td>29</td><td>19</td><td>4,207</td></tr>
<tr class="alt"><th><span class="n">2103</span></th><td><span class="jt">チバリヨ</span></td><td>5291</td><td>36</td><td>25</td><td>1,977</td></tr>
<tr><th><span class="n">2105</span></th><td><span class="jt">チバリヨ</span></td><td>2170</td><td>13</td><td>11</td><td>417</td></tr>
</table>
<h2 id="h2"><span class="jt">「光るん」の結果</span></h2>
<table id="t2"><colgroup><col style="width:379px"><col style="width:311px"></colgroup>
<tr style="height:28px"><th><span class="jt">平均差枚</span></th><td class="w">+1,284<span class="jt">枚</span></td></tr>
<tr class="r2" style="height:27px"><th><span class="jt">出玉率</span></th><td>109.3%</td></tr>
<tr class="r2" style="height:27px"><th><span class="jt">差枚プラスの割合</span></th><td class="w">83%(25/30<span class="jt">台</span>)</td></tr>
</table>
</body></html>
